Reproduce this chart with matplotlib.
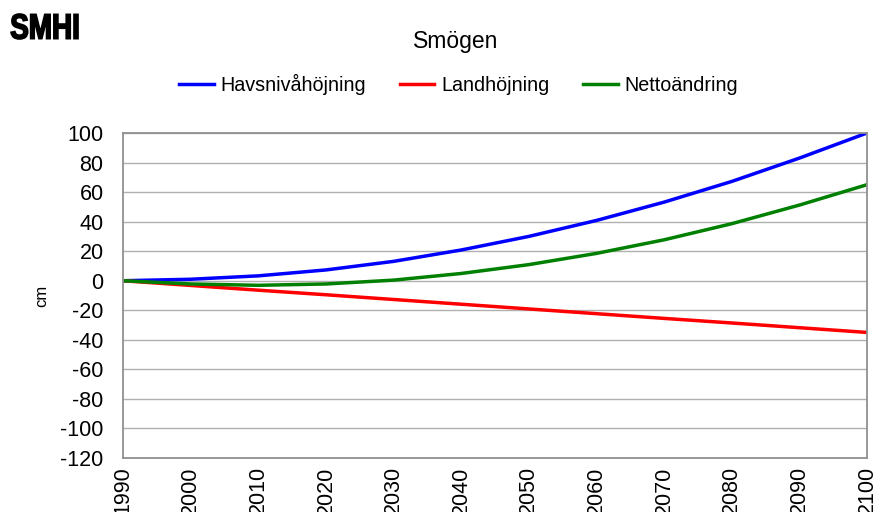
import numpy as np
import matplotlib.pyplot as plt
from matplotlib.textpath import TextPath
from matplotlib.patches import PathPatch
from matplotlib.font_manager import FontProperties
from matplotlib.transforms import Affine2D, IdentityTransform

plt.rcParams['font.family'] = ['Liberation Sans', 'DejaVu Sans']
plt.rcParams['axes.unicode_minus'] = False

# data (cm, relative to 1990)
years = [1990, 2000, 2010, 2020, 2030, 2040, 2050, 2060, 2070, 2080, 2090, 2100]
havsniva = [0, 1.0, 3.3, 7.3, 13.1, 20.8, 30.0, 40.8, 53.2, 67.2, 83.0, 100.0]
landhojning = [0, -3.2, -6.4, -9.5, -12.7, -15.9, -19.1, -22.3, -25.5, -28.6, -31.8, -35.0]
netto = [0, -2.2, -3.1, -2.2, 0.4, 4.9, 10.9, 18.5, 27.7, 38.6, 51.2, 65.0]

W, H = 877, 512
fig = plt.figure(figsize=(W / 100, H / 100), dpi=100)
ax = fig.add_axes([123 / W, 54 / H, 744 / W, 325 / H])

ax.plot(years, havsniva, color='#0000ff', lw=2.5, label='Havsnivåhöjning')
ax.plot(years, landhojning, color='#ff0000', lw=2.5, label='Landhöjning')
ax.plot(years, netto, color='#008000', lw=2.5, label='Nettoändring')

ax.set_xlim(1990, 2100)
ax.set_ylim(-120, 100)
ax.set_xticks(range(1990, 2101, 10))
ax.set_yticks(range(-120, 101, 20))
ax.tick_params(axis='x', labelrotation=90, labelsize=15.5, length=0, pad=6)
ax.tick_params(axis='y', labelsize=15.5, length=0, pad=14)
ax.grid(axis='y', color='#b0b0b0', lw=1)
ax.set_axisbelow(True)
for s in ax.spines.values():
    s.set_color('#909090')
    s.set_linewidth(1.3)
ax.set_ylabel('cm', fontsize=12, labelpad=8)

fig.text(0.52, 0.918, 'Smögen', ha='center', va='center', fontsize=16.5)
fig.legend(loc='center', bbox_to_anchor=(0.523, 0.835), ncol=3, frameon=False,
           fontsize=14.2, handlelength=1.75, handletextpad=0.35, columnspacing=1.7)

# SMHI logo: heavy condensed letters squeezed into the corner box
tp = TextPath((0, 0), 'SMHI', size=1, prop=FontProperties(family='Liberation Sans', weight='bold'))
ext = tp.get_extents()
x0, y0, x1, y1 = 11, H - 39, 78, H - 14
tr = Affine2D().translate(-ext.x0, -ext.y0).scale((x1 - x0) / ext.width, (y1 - y0) / ext.height).translate(x0, y0)
fig.add_artist(PathPatch(tr.transform_path(tp), facecolor='black', edgecolor='black',
                         lw=1.2, transform=IdentityTransform()))

fig.savefig('out.png', dpi=100)
